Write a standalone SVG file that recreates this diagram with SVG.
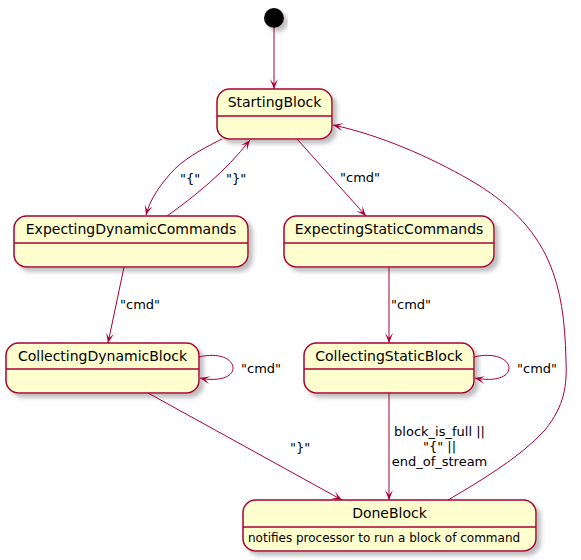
<svg xmlns="http://www.w3.org/2000/svg" width="581" height="560" viewBox="0 0 581 560">
  <defs>
    <filter id="shadow" x="-10%" y="-20%" width="130%" height="160%">
      <feGaussianBlur in="SourceAlpha" stdDeviation="2" result="blur"/>
      <feOffset in="blur" dx="4" dy="4" result="off"/>
      <feColorMatrix in="off" type="matrix" values="0 0 0 0 0.25  0 0 0 0 0.25  0 0 0 0 0.25  0 0 0 0.55 0" result="shade"/>
      <feMerge>
        <feMergeNode in="shade"/>
        <feMergeNode in="SourceGraphic"/>
      </feMerge>
    </filter>
    <marker id="arrow" viewBox="0 0 10 8" refX="10" refY="4" markerWidth="10" markerHeight="8" markerUnits="userSpaceOnUse" orient="auto">
      <path d="M0,0 L10,4 L0,8 L5,4 Z" fill="#A80036"/>
    </marker>
  </defs>
  <style>
    .state { fill: #FEFECE; stroke: #A80036; stroke-width: 1.5; }
    .sep { stroke: #A80036; stroke-width: 1.5; }
    .name { font-family: "DejaVu Sans", sans-serif; font-size: 14px; fill: #000; text-anchor: middle; }
    .desc { font-family: "DejaVu Sans", sans-serif; font-size: 12px; fill: #000; }
    .edge { fill: none; stroke: #A80036; stroke-width: 1; marker-end: url(#arrow); }
    .label { font-family: "DejaVu Sans", sans-serif; font-size: 13px; fill: #000; }
  </style>

  <rect width="581" height="560" fill="#FFFFFF"/>

  <!-- initial pseudo-state -->
  <g id="start">
    <circle cx="274" cy="18" r="10" fill="#000000" filter="url(#shadow)"/>
  </g>

  <g id="StartingBlock">
    <rect class="state" x="217" y="89" width="115" height="50" rx="12.5" filter="url(#shadow)"/>
    <line class="sep" x1="217" y1="116" x2="332" y2="116"/>
    <text class="name" x="274.5" y="107">StartingBlock</text>
  </g>

  <g id="ExpectingDynamicCommands">
    <rect class="state" x="14" y="216" width="234" height="51" rx="12.5" filter="url(#shadow)"/>
    <line class="sep" x1="14" y1="243" x2="248" y2="243"/>
    <text class="name" x="131" y="234">ExpectingDynamicCommands</text>
  </g>

  <g id="ExpectingStaticCommands">
    <rect class="state" x="284" y="216" width="210" height="51" rx="12.5" filter="url(#shadow)"/>
    <line class="sep" x1="284" y1="243" x2="494" y2="243"/>
    <text class="name" x="389" y="234">ExpectingStaticCommands</text>
  </g>

  <g id="CollectingDynamicBlock">
    <rect class="state" x="6" y="343" width="193" height="50" rx="12.5" filter="url(#shadow)"/>
    <line class="sep" x1="6" y1="369" x2="199" y2="369"/>
    <text class="name" x="102.5" y="361">CollectingDynamicBlock</text>
  </g>

  <g id="CollectingStaticBlock">
    <rect class="state" x="304" y="343" width="170" height="50" rx="12.5" filter="url(#shadow)"/>
    <line class="sep" x1="304" y1="369" x2="474" y2="369"/>
    <text class="name" x="389" y="361">CollectingStaticBlock</text>
  </g>

  <g id="DoneBlock">
    <rect class="state" x="243" y="500" width="293" height="51" rx="12.5" filter="url(#shadow)"/>
    <line class="sep" x1="243" y1="527" x2="536" y2="527"/>
    <text class="name" x="389.5" y="518">DoneBlock</text>
    <text class="desc" x="248" y="542">notifies processor to run a block of command</text>
  </g>

  <g id="connectors">
    <path class="edge" d="M274,28 L274,89"/>

    <path class="edge" d="M222,139 C200,150 182,160 170,174 C158,188 150,200 146,215"/>
    <text class="label" x="180" y="183">"{"</text>

    <path class="edge" d="M167,216 C195,196 225,172 250,140"/>
    <text class="label" x="226" y="183">"}"</text>

    <path class="edge" d="M297,139 L366,216"/>
    <text class="label" x="340" y="182">"cmd"</text>

    <path class="edge" d="M124,267 L108,343"/>
    <text class="label" x="120" y="309">"cmd"</text>

    <path class="edge" d="M389,267 L389,343"/>
    <text class="label" x="391" y="309">"cmd"</text>

    <path class="edge" d="M199,357 C219,352 233,359 233,368 C233,377 219,382 200,378"/>
    <text class="label" x="241" y="373">"cmd"</text>

    <path class="edge" d="M474,357 C494,352 509,359 509,368 C509,377 495,382 475,378"/>
    <text class="label" x="517" y="373">"cmd"</text>

    <path class="edge" d="M148,393 L342,500"/>
    <text class="label" x="290" y="452">"}"</text>

    <path class="edge" d="M389,393 L389,500"/>
    <text class="label" x="439.5" y="436" text-anchor="middle">block_is_full ||</text>
    <text class="label" x="439.5" y="451" text-anchor="middle">"{" ||</text>
    <text class="label" x="439.5" y="466" text-anchor="middle">end_of_stream</text>

    <path class="edge" d="M448,500 C475,484 520,458 545,430 C565,405 567,385 566,360 C565,320 561,290 549,262 C534,228 508,202 470,180 C430,157 380,135 333,125"/>
  </g>
</svg>
